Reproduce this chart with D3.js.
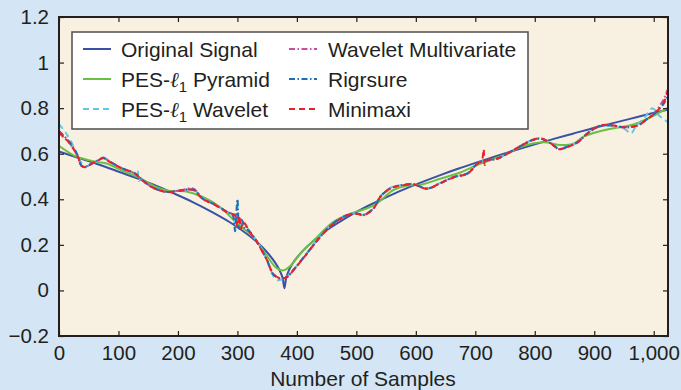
<!DOCTYPE html>
<html>
<head>
<meta charset="utf-8">
<script src="https://cdn.jsdelivr.net/npm/d3@7"></script>
<style>
  html, body { margin: 0; padding: 0; background: #d4e6f5; }
  svg { display: block; }
  text { font-family: "Liberation Sans", Arial, Helvetica, sans-serif; fill: #231f20; }
</style>
</head>
<body>
<svg id="chart" width="681" height="390"></svg>
<script>
// ---------------- data ----------------
const xTicks = [0, 100, 200, 300, 400, 500, 600, 700, 800, 900, 1000];
const xTickLabels = ["0", "100", "200", "300", "400", "500", "600", "700", "800", "900", "1,000"];
const yTicks = [-0.2, 0, 0.2, 0.4, 0.6, 0.8, 1, 1.2];
const yTickLabels = ["\u22120.2", "0", "0.2", "0.4", "0.6", "0.8", "1", "1.2"];
const xLabel = "Number of Samples";

const originalSignal = [
  [0, .61], [32, .582], [64, .555], [96, .525], [128, .495], [160, .463], [192, .427],
  [224, .389], [256, .346], [288, .298], [320, .240], [340, .195], [352, .161], [364, .120],
  [372, .082], [376, .055], [379, .01], [382, .055], [386, .085], [392, .115], [400, .144],
  [416, .19], [448, .26], [480, .314], [512, .361], [544, .401], [576, .439], [608, .473],
  [640, .505], [672, .535], [704, .563], [736, .59], [768, .616], [800, .641], [832, .665],
  [864, .688], [896, .711], [928, .732], [960, .753], [992, .774], [1023, .793]
];

const pesPyramid = [
  [0, .635], [27, .59], [50, .572], [66, .563], [80, .557], [106, .526], [133, .497],
  [162, .455], [184, .437], [212, .435], [242, .41], [271, .365], [300, .293], [327, .234],
  [350, .15], [365, .10], [377, .088], [390, .11], [406, .162], [434, .234], [461, .30],
  [490, .337], [518, .36], [535, .383], [562, .44], [586, .46], [610, .465], [641, .49],
  [670, .513], [709, .557], [754, .60], [776, .629], [815, .65], [843, .638], [866, .645],
  [882, .675], [911, .70], [933, .712], [961, .725], [990, .754], [1023, .80]
];

const pesWavelet = [
  [0, .73], [12, .69], [25, .63], [35, .57], [44, .545], [55, .555], [66, .57], [74, .585],
  [86, .565], [106, .535], [128, .515], [132, .525], [134, .48], [137, .49], [156, .455],
  [173, .437], [184, .432], [207, .44], [226, .442], [242, .405], [259, .382], [283, .345],
  [293, .33], [297, .27], [300, .39], [303, .30], [310, .29], [321, .258], [333, .215],
  [340, .185], [350, .13], [360, .065], [368, .045], [376, .05], [383, .06], [394, .09],
  [417, .165], [439, .237], [461, .295], [485, .332], [501, .34], [512, .33], [529, .362],
  [540, .412], [557, .45], [574, .462], [596, .467], [619, .448], [641, .472], [664, .498],
  [687, .515], [704, .558], [720, .572], [737, .58], [765, .618], [796, .66], [810, .665],
  [826, .648], [841, .622], [855, .632], [872, .652], [889, .69], [911, .722], [933, .72],
  [950, .71], [962, .69], [970, .72], [985, .76], [998, .80], [1008, .77], [1023, .74]
];

const waveletMultivariate = [
  [0, .69], [18, .645], [32, .586], [37, .55], [44, .542], [55, .557], [66, .571], [74, .581],
  [86, .564], [106, .536], [128, .513], [137, .491], [156, .454], [173, .436], [184, .432],
  [207, .441], [226, .447], [242, .402], [259, .381], [283, .344], [296, .33], [301, .30],
  [306, .31], [312, .29], [321, .256], [333, .212], [340, .18], [350, .131], [360, .072],
  [372, .052], [383, .058], [394, .088], [417, .162], [439, .234], [461, .293], [485, .33],
  [501, .337], [512, .331], [529, .36], [540, .41], [557, .447], [574, .46], [596, .465],
  [619, .446], [641, .47], [664, .497], [687, .513], [704, .557], [720, .57], [737, .578],
  [765, .617], [796, .66], [810, .667], [826, .647], [841, .62], [855, .63], [872, .65],
  [889, .69], [911, .724], [933, .724], [950, .716], [973, .724], [990, .755], [1003, .785],
  [1017, .84], [1023, .88]
];

const rigrsure = [
  [0, .70], [18, .65], [32, .59], [37, .55], [44, .542], [55, .556], [66, .572], [74, .582],
  [86, .564], [106, .536], [128, .514], [137, .492], [156, .454], [173, .437], [184, .432],
  [207, .44], [226, .442], [242, .402], [259, .381], [283, .344], [292, .33], [296, .26],
  [300, .40], [303, .27], [307, .31], [312, .275], [321, .257], [333, .213], [340, .182],
  [350, .132], [360, .072], [372, .052], [383, .058], [394, .09], [417, .163], [439, .235],
  [461, .294], [485, .331], [501, .338], [512, .332], [529, .361], [540, .41], [557, .448],
  [574, .461], [596, .466], [619, .447], [641, .471], [664, .498], [687, .514], [704, .557],
  [720, .571], [737, .579], [765, .618], [796, .66], [810, .666], [826, .648], [841, .621],
  [855, .631], [872, .651], [889, .69], [911, .723], [933, .723], [950, .716], [973, .724],
  [990, .755], [1003, .78], [1017, .82], [1023, .85]
];

const minimaxi = [
  [0, .695], [18, .645], [32, .585], [37, .548], [44, .541], [55, .557], [66, .57], [74, .58],
  [86, .563], [106, .535], [128, .513], [137, .49], [156, .453], [173, .436], [184, .431],
  [207, .439], [226, .44], [242, .40], [259, .38], [283, .343], [296, .33], [300, .28],
  [303, .33], [306, .27], [310, .30], [321, .256], [333, .212], [340, .18], [350, .132],
  [360, .074], [372, .053], [383, .058], [394, .088], [417, .162], [439, .234], [461, .293],
  [485, .33], [501, .337], [512, .33], [529, .36], [540, .41], [557, .447], [574, .46],
  [596, .465], [619, .446], [641, .47], [664, .497], [687, .513], [704, .557], [711, .57],
  [714, .62], [716, .55], [720, .572], [737, .578], [765, .617], [796, .66], [810, .667],
  [826, .647], [841, .62], [855, .63], [872, .65], [889, .69], [911, .724], [933, .724],
  [950, .716], [973, .724], [990, .754], [1003, .78], [1017, .826], [1023, .87]
];

const seriesNames = ["Original Signal", "PES-\u2113\u2081 Pyramid", "PES-\u2113\u2081 Wavelet",
                     "Wavelet Multivariate", "Rigrsure", "Minimaxi"];

// ---------------- styles ----------------
const styles = [
  { data: originalSignal,      color: "#3a52a4", dash: null,            width: 2 },
  { data: pesPyramid,          color: "#6abf45", dash: null,            width: 2 },
  { data: pesWavelet,          color: "#5ec8e5", dash: "6,4",           width: 2 },
  { data: waveletMultivariate, color: "#c2509f", dash: "6,2.5,1.5,2.5", width: 2 },
  { data: rigrsure,            color: "#1f6db3", dash: "6,2.5,1.5,2.5", width: 2 },
  { data: minimaxi,            color: "#ec2029", dash: "6,4",           width: 2 }
];

// ---------------- layout ----------------
const svg = d3.select("#chart");
const L = 59, R = 668, T = 17, B = 336;
const x = d3.scaleLinear().domain([0, 1024]).range([L, R]);
const y = d3.scaleLinear().domain([-0.2, 1.2]).range([B, T]);

svg.append("rect").attr("x", 0).attr("y", 0).attr("width", 681).attr("height", 390).attr("fill", "#d4e6f5");
svg.append("rect").attr("x", L).attr("y", T).attr("width", R - L).attr("height", B - T).attr("fill", "#f8f0e0");

const defs = svg.append("defs");
defs.append("clipPath").attr("id", "clip").append("rect")
  .attr("x", L).attr("y", T).attr("width", R - L).attr("height", B - T);

// lines
const line = d3.line().x(d => x(d[0])).y(d => y(d[1])).curve(d3.curveCatmullRom.alpha(0.5));
const g = svg.append("g").attr("clip-path", "url(#clip)");
styles.forEach(s => {
  g.append("path").datum(s.data)
    .attr("d", line)
    .attr("fill", "none")
    .attr("stroke", s.color)
    .attr("stroke-width", s.width)
    .attr("stroke-dasharray", s.dash)
    .attr("stroke-linejoin", "round");
});

// axes (inward ticks, MATLAB style)
const fmtX = (d, i) => xTickLabels[i];
const fmtY = (d, i) => yTickLabels[i];
const axB = svg.append("g").attr("transform", `translate(0,${B})`)
  .call(d3.axisBottom(x).tickValues(xTicks).tickSize(-5).tickPadding(9).tickFormat(fmtX));
const axL = svg.append("g").attr("transform", `translate(${L},0)`)
  .call(d3.axisLeft(y).tickValues(yTicks).tickSize(-5).tickPadding(10).tickFormat(fmtY));
const axT = svg.append("g").attr("transform", `translate(0,${T})`)
  .call(d3.axisTop(x).tickValues(xTicks).tickSize(-5).tickFormat(""));
const axR = svg.append("g").attr("transform", `translate(${R},0)`)
  .call(d3.axisRight(y).tickValues(yTicks).tickSize(-5).tickFormat(""));
[axB, axL, axT, axR].forEach(a => {
  a.select(".domain").remove();
  a.selectAll(".tick line").attr("stroke", "#231f20").attr("stroke-width", 1.2);
  a.selectAll("text").style("font-size", "20.5px").attr("fill", "#231f20")
    .style("font-family", "'Liberation Sans', Arial, sans-serif");
});
svg.append("rect").attr("x", L).attr("y", T).attr("width", R - L).attr("height", B - T)
  .attr("fill", "none").attr("stroke", "#231f20").attr("stroke-width", 2);

svg.append("text").attr("x", 363).attr("y", 386).attr("text-anchor", "middle")
  .style("font-size", "21px").text(xLabel);

// legend
const lg = svg.append("g");
lg.append("rect").attr("x", 72).attr("y", 32).attr("width", 456).attr("height", 97)
  .attr("fill", "#ffffff").attr("stroke", "#4d4d4d").attr("stroke-width", 1.5);
const cols = [{ lx: 83, tx: 121 }, { lx: 289, tx: 328 }];
const rowsY = [49, 79, 109];
styles.forEach((s, i) => {
  const c = cols[Math.floor(i / 3)], ry = rowsY[i % 3];
  lg.append("line").attr("x1", c.lx).attr("x2", c.lx + 28).attr("y1", ry).attr("y2", ry)
    .attr("stroke", s.color).attr("stroke-width", 2).attr("stroke-dasharray", s.dash);
  const t = lg.append("text").attr("x", c.tx).attr("y", ry + 7.5).style("font-size", "21px");
  if (i === 1 || i === 2) {
    t.append("tspan").text("PES-");
    t.append("tspan").style("font-family", "'DejaVu Serif', serif").style("font-style", "italic").text("\u2113");
    t.append("tspan").attr("dy", 5).style("font-size", "15px").text("1");
    t.append("tspan").attr("dy", -5).text(i === 1 ? " Pyramid" : " Wavelet");
  } else {
    t.text(seriesNames[i]);
  }
});
</script>
</body>
</html>
